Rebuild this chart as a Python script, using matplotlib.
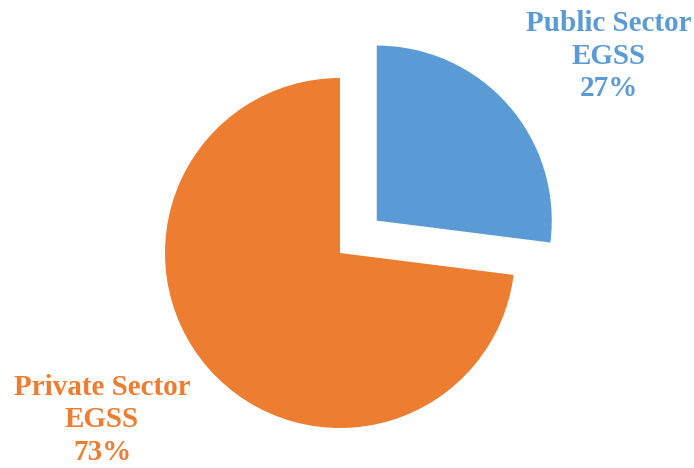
import matplotlib.pyplot as plt

# Datos del gráfico
etiquetas = ["Public Sector\nEGSS", "Private Sector\nEGSS"]
valores = [27, 73]
colores = ["#5B9BD5", "#ED7D31"]
separacion = [0.28, 0.0]

plt.rcParams['font.family'] = ['Liberation Serif', 'DejaVu Serif']

fig = plt.figure(figsize=(6.94, 4.68), dpi=100)
ax = fig.add_axes([0, 0, 1, 1])

ax.pie(valores, colors=colores, explode=separacion, startangle=90,
       counterclock=False, radius=1.0, wedgeprops={'linewidth': 0})

# Centro del pastel en píxeles (340, 253), radio 175 px
r = 175.0
ax.set_xlim(-340 / r, (694 - 340) / r)
ax.set_ylim(-(468 - 253) / r, 253 / r)
ax.set_aspect('auto')
ax.axis('off')

# Etiquetas con porcentaje
posiciones = [(0.8775, 0.880), (0.147, 0.103)]
for etq, val, col, (px, py) in zip(etiquetas, valores, colores, posiciones):
    fig.text(px, py, f"{etq}\n{val}%", color=col, fontsize=21, fontweight='bold',
             ha='center', va='center', linespacing=1.27)

fig.savefig("out.png", dpi=100)
